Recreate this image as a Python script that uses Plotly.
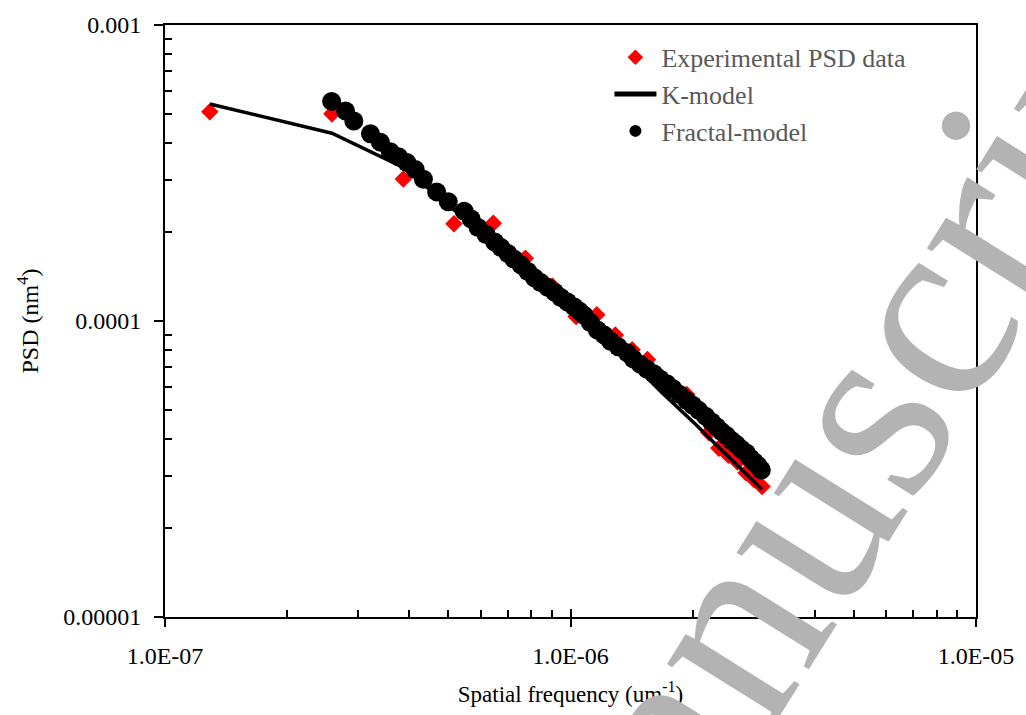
import plotly.graph_objects as go

# Experimental PSD data (red diamonds)
exp_freq = [1.29e-7, 2.58e-7, 3.87e-7, 5.16e-7, 6.45e-7, 7.74e-7, 9.03e-7, 1.032e-6,
            1.161e-6, 1.29e-6, 1.419e-6, 1.548e-6, 1.677e-6, 1.806e-6, 1.935e-6,
            2.064e-6, 2.193e-6, 2.322e-6, 2.451e-6, 2.58e-6, 2.709e-6, 2.838e-6, 2.967e-6]
exp_psd = [5.09e-4, 5.01e-4, 3.02e-4, 2.13e-4, 2.14e-4, 1.63e-4, 1.31e-4, 1.035e-4,
           1.05e-4, 8.96e-5, 8.0e-5, 7.41e-5, 6.46e-5, 5.86e-5, 5.64e-5,
           4.92e-5, 4.20e-5, 3.72e-5, 3.52e-5, 3.34e-5, 3.07e-5, 2.91e-5, 2.76e-5]

# K-model (black line)
k_freq = exp_freq
k_psd = [5.41e-4, 4.31e-4, 3.30e-4, 2.38e-4, 1.84e-4, 1.49e-4, 1.24e-4, 1.06e-4,
         9.17e-5, 8.0e-5, 7.16e-5, 6.42e-5, 5.75e-5, 5.23e-5, 4.77e-5,
         4.39e-5, 4.04e-5, 3.74e-5, 3.47e-5, 3.24e-5, 3.04e-5, 2.85e-5, 2.70e-5]

# Fractal model (black circles)
fr_freq = [2.576e-7, 2.788e-7, 2.922e-7, 3.211e-7, 3.397e-7, 3.594e-7, 3.767e-7, 3.948e-7,
           4.140e-7, 4.338e-7, 4.677e-7, 4.995e-7, 5.467e-7, 5.69e-7, 5.916e-7, 6.19e-7,
           6.501e-7, 6.74e-7, 7.008e-7, 7.25e-7, 7.542e-7, 7.85e-7, 8.147e-7, 8.44e-7,
           8.782e-7, 9.14e-7, 9.468e-7, 9.83e-7, 1.021e-6, 1.052e-6, 1.080e-6, 1.119e-6,
           1.165e-6, 1.211e-6, 1.256e-6, 1.311e-6, 1.380e-6, 1.427e-6, 1.485e-6, 1.544e-6,
           1.604e-6, 1.662e-6, 1.729e-6, 1.789e-6, 1.861e-6, 1.936e-6, 2.002e-6, 2.071e-6,
           2.154e-6, 2.229e-6, 2.293e-6, 2.358e-6, 2.426e-6, 2.495e-6, 2.566e-6, 2.640e-6,
           2.715e-6, 2.778e-6, 2.841e-6, 2.905e-6, 2.955e-6]
fr_psd = [5.52e-4, 5.12e-4, 4.74e-4, 4.29e-4, 4.02e-4, 3.73e-4, 3.59e-4, 3.43e-4,
          3.25e-4, 3.01e-4, 2.73e-4, 2.53e-4, 2.35e-4, 2.21e-4, 2.07e-4, 1.96e-4,
          1.85e-4, 1.77e-4, 1.69e-4, 1.62e-4, 1.55e-4, 1.47e-4, 1.40e-4, 1.35e-4,
          1.30e-4, 1.25e-4, 1.20e-4, 1.16e-4, 1.116e-4, 1.08e-4, 1.045e-4, 9.89e-5,
          9.33e-5, 8.96e-5, 8.54e-5, 8.18e-5, 7.81e-5, 7.46e-5, 7.15e-5, 6.87e-5,
          6.63e-5, 6.37e-5, 6.14e-5, 5.90e-5, 5.64e-5, 5.39e-5, 5.19e-5, 4.99e-5,
          4.77e-5, 4.56e-5, 4.39e-5, 4.23e-5, 4.10e-5, 3.95e-5, 3.83e-5, 3.69e-5,
          3.58e-5, 3.44e-5, 3.34e-5, 3.24e-5, 3.14e-5]

x_major = [1e-7, 1e-6, 1e-5]
x_major_text = ["1.0E-07", "1.0E-06", "1.0E-05"]
y_major = [1e-5, 1e-4, 1e-3]
y_major_text = ["0.00001", "0.0001", "0.001"]
x_minor = [2e-7, 3e-7, 4e-7, 5e-7, 6e-7, 7e-7, 8e-7, 9e-7,
           2e-6, 3e-6, 4e-6, 5e-6, 6e-6, 7e-6, 8e-6, 9e-6]
y_minor = [2e-5, 3e-5, 4e-5, 5e-5, 6e-5, 7e-5, 8e-5, 9e-5,
           2e-4, 3e-4, 4e-4, 5e-4, 6e-4, 7e-4, 8e-4, 9e-4]

FONT = "Liberation Serif, Times New Roman, serif"

fig = go.Figure()
fig.add_trace(go.Scatter(x=exp_freq, y=exp_psd, mode="markers", name="Experimental PSD data",
                         marker=dict(symbol="diamond", size=13.5, color="#ff0000")))
fig.add_trace(go.Scatter(x=k_freq, y=k_psd, mode="lines", name="K-model",
                         line=dict(color="black", width=3.5)))
fig.add_trace(go.Scatter(x=fr_freq, y=fr_psd, mode="markers", name="Fractal-model",
                         marker=dict(symbol="circle", size=19, color="black")))
# helper trace for the secondary (cross-tick) x axis
fig.add_trace(go.Scatter(x=[], y=[], xaxis="x2", showlegend=False, hoverinfo="skip"))

fig.update_layout(
    width=1026, height=715,
    margin=dict(l=165, r=45, t=19, b=89),
    paper_bgcolor="white", plot_bgcolor="white",
    font=dict(family=FONT, size=24, color="black"),
    showlegend=True,
    legend=dict(x=0.548, y=0.985, xanchor="left", yanchor="top",
                bgcolor="rgba(0,0,0,0)", font=dict(family=FONT, size=26, color="#595959"),
                tracegroupgap=0, itemwidth=42, itemsizing="constant"),
    xaxis=dict(type="log", range=[-7, -5], showgrid=False, zeroline=False,
               showline=True, linecolor="black", linewidth=2, mirror=True,
               tickmode="array", tickvals=x_major, ticktext=x_major_text,
               ticks="outside", ticklen=8, tickwidth=2, tickcolor="black",
               ticklabelstandoff=8,
               minor=dict(tickmode="array", tickvals=x_minor, ticks="inside",
                          ticklen=7, tickwidth=1.5, tickcolor="black", showgrid=False),
               title=dict(text="Spatial frequency (um<sup>-1</sup>)", standoff=18,
                          font=dict(family=FONT, size=23))),
    xaxis2=dict(type="log", range=[-7, -5], overlaying="x", anchor="y", side="bottom",
                showgrid=False, zeroline=False, showline=False,
                tickmode="array", tickvals=x_major, showticklabels=False,
                ticks="inside", ticklen=8, tickwidth=2, tickcolor="black"),
    yaxis=dict(type="log", range=[-5, -3], showgrid=False, zeroline=False,
               showline=True, linecolor="black", linewidth=2, mirror=True,
               tickmode="array", tickvals=y_major, ticktext=y_major_text,
               ticks="outside", ticklen=9, tickwidth=2, tickcolor="black",
               ticklabelstandoff=8,
               minor=dict(tickmode="array", tickvals=y_minor, ticks="inside",
                          ticklen=7, tickwidth=1.5, tickcolor="black", showgrid=False),
               title=dict(text="PSD (nm<sup>4</sup>)", standoff=18,
                          font=dict(family=FONT, size=24))),
    annotations=[dict(text="manuscript", xref="paper", yref="paper", x=0.825, y=0.267,
                      xanchor="center", yanchor="middle",
                      showarrow=False, textangle=-58,
                      font=dict(family=FONT, size=268, color="#b3b3b3"))],
)

fig.write_html("out.html")
